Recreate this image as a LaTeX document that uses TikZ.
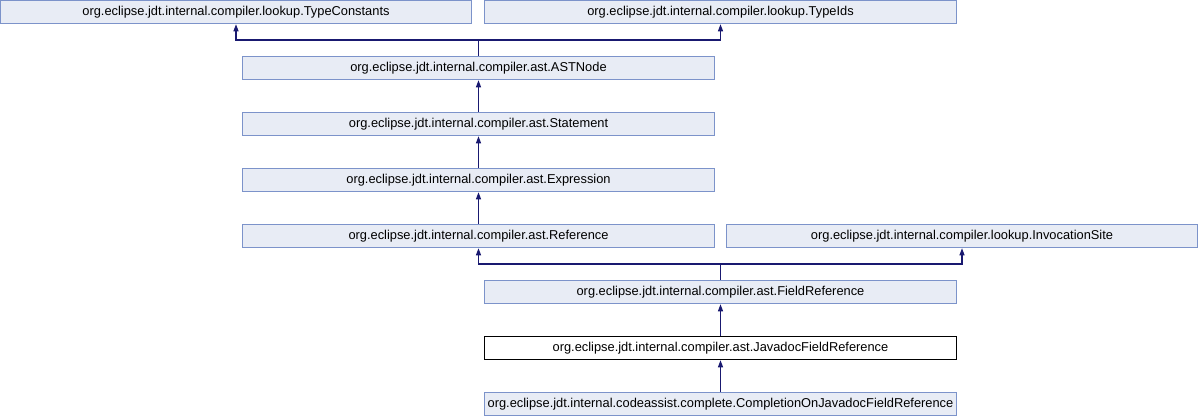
\documentclass[tikz,border=0pt]{standalone}
\usepackage{fontspec}
\setmainfont{Liberation Sans}
\usetikzlibrary{arrows.meta}
\definecolor{boxfill}{HTML}{E8ECF5}
\definecolor{boxdraw}{HTML}{7C93CA}
\definecolor{edgecol}{HTML}{191970}
\tikzset{
  cls/.style={draw=boxdraw, fill=boxfill, line width=1pt, minimum height=23.5pt, inner sep=0pt, font=\fontsize{12.85}{14}\selectfont, text=black},
  cur/.style={cls, draw=black, fill=white},
  edge/.style={draw=edgecol, line width=1.1pt, {Triangle[width=5pt,length=7pt]}-}
}
\begin{document}
\begin{tikzpicture}[x=1pt,y=-1pt]
\useasboundingbox (0,0) rectangle (1200,416);
\node[cls, minimum width=471pt] (tc) at (236,12) {org.eclipse.jdt.internal.compiler.lookup.TypeConstants};
\node[cls, minimum width=472pt] (ti) at (720.5,12) {org.eclipse.jdt.internal.compiler.lookup.TypeIds};
\node[cls, minimum width=472pt] (ast) at (478.5,68) {org.eclipse.jdt.internal.compiler.ast.ASTNode};
\node[cls, minimum width=472pt] (stmt) at (478.5,124) {org.eclipse.jdt.internal.compiler.ast.Statement};
\node[cls, minimum width=472pt] (expr) at (478.5,180) {org.eclipse.jdt.internal.compiler.ast.Expression};
\node[cls, minimum width=472pt] (ref) at (478.5,236) {org.eclipse.jdt.internal.compiler.ast.Reference};
\node[cls, minimum width=471pt] (inv) at (962,236) {org.eclipse.jdt.internal.compiler.lookup.InvocationSite};
\node[cls, minimum width=472pt] (fr) at (720.5,292) {org.eclipse.jdt.internal.compiler.ast.FieldReference};
\node[cur, minimum width=472pt] (jfr) at (720.5,348) {org.eclipse.jdt.internal.compiler.ast.JavadocFieldReference};
\node[cls, minimum width=472pt] (comp) at (720.5,404) {org.eclipse.jdt.internal.codeassist.complete.CompletionOnJavadocFieldReference};
\coordinate (j1) at (478.5,40);
\coordinate (j2) at (720.5,264);
\draw[edge] (tc.south) |- (j1) -- (ast.north);
\draw[edge] (ti.south) |- (j1);
\draw[edge] (ast.south) -- (stmt.north);
\draw[edge] (stmt.south) -- (expr.north);
\draw[edge] (expr.south) -- (ref.north);
\draw[edge] (ref.south) |- (j2) -- (fr.north);
\draw[edge] (inv.south) |- (j2);
\draw[edge] (fr.south) -- (jfr.north);
\draw[edge] (jfr.south) -- (comp.north);
\end{tikzpicture}
\end{document}
